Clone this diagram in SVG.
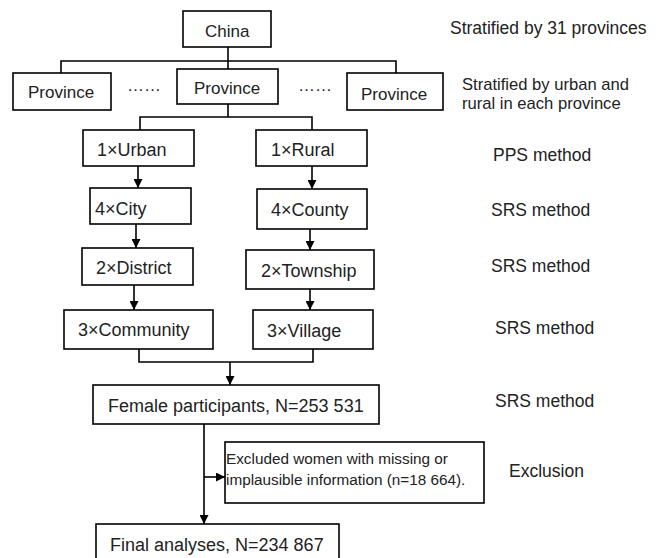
<svg xmlns="http://www.w3.org/2000/svg" width="656" height="558" viewBox="0 0 656 558">
<style>
.box{fill:#fff;stroke:#000;stroke-width:1.6}
.t{font-family:"Liberation Sans",Arial,sans-serif;font-size:18px;fill:#222}
.s{font-size:17px}
.r{font-family:"Liberation Sans",Arial,sans-serif;font-size:17.5px;fill:#222}
.r2{font-size:16.6px}
.e{font-size:15.3px}
.ln{fill:none;stroke:#000;stroke-width:1.6}
</style>
<defs>
<marker id="ah" viewBox="0 0 10 10" refX="10" refY="5" markerWidth="9" markerHeight="9" markerUnits="userSpaceOnUse" orient="auto">
<path d="M0,0 L10,5 L0,10 z" fill="#000"/>
</marker>
</defs>
<rect width="656" height="558" fill="#fff"/>
<g id="connectors">
<path class="ln" d="M228,47 V69"/>
<path class="ln" d="M61,73 V61 H396 V73"/>
<path class="ln" d="M228,104 V117"/>
<path class="ln" d="M140,130 V117 H312 V130"/>
<path class="ln" d="M138,166 V188" marker-end="url(#ah)"/>
<path class="ln" d="M312,166 V189" marker-end="url(#ah)"/>
<path class="ln" d="M136,224 V248" marker-end="url(#ah)"/>
<path class="ln" d="M310,229 V250" marker-end="url(#ah)"/>
<path class="ln" d="M134,285 V310" marker-end="url(#ah)"/>
<path class="ln" d="M310,289 V310" marker-end="url(#ah)"/>
<path class="ln" d="M139,349 V362 H313 V349"/>
<path class="ln" d="M230,362 V385" marker-end="url(#ah)"/>
<path class="ln" d="M204,424 V524" marker-end="url(#ah)"/>
<path class="ln" d="M204,477 H225" marker-end="url(#ah)"/>
</g>
<g id="china"><rect class="box" x="183" y="11" width="88" height="36"/><text class="t s" x="205" y="37">China</text></g>
<g id="province-left"><rect class="box" x="13" y="73" width="98" height="37"/><text class="t s" x="28" y="98">Province</text></g>
<text class="t s" x="127" y="91">……</text>
<g id="province-mid"><rect class="box" x="177" y="69" width="101" height="35"/><text class="t s" x="194" y="94">Province</text></g>
<text class="t s" x="298" y="91">……</text>
<g id="province-right"><rect class="box" x="347" y="73" width="96" height="37"/><text class="t s" x="361" y="100">Province</text></g>
<g id="urban"><rect class="box" x="83" y="130" width="111" height="36"/><text class="t" x="97" y="156">1×Urban</text></g>
<g id="rural"><rect class="box" x="256" y="130" width="111" height="36"/><text class="t" x="271" y="156">1×Rural</text></g>
<g id="city"><rect class="box" x="90" y="188" width="101" height="36"/><text class="t" x="95" y="215">4×City</text></g>
<g id="county"><rect class="box" x="257" y="189" width="110" height="40"/><text class="t" x="271" y="216">4×County</text></g>
<g id="district"><rect class="box" x="82" y="248" width="111" height="37"/><text class="t" x="96" y="274">2×District</text></g>
<g id="township"><rect class="box" x="246" y="250" width="128" height="39"/><text class="t" x="261" y="277">2×Township</text></g>
<g id="community"><rect class="box" x="64" y="310" width="149" height="39"/><text class="t" x="78" y="336">3×Community</text></g>
<g id="village"><rect class="box" x="253" y="310" width="120" height="39"/><text class="t" x="267" y="337">3×Village</text></g>
<g id="female"><rect class="box" x="93" y="385" width="286" height="39"/><text class="t" x="108" y="412">Female participants, N=253 531</text></g>
<g id="excluded"><rect class="box" x="225" y="442" width="259" height="61"/><text class="t e" x="226" y="464">Excluded women with missing or</text><text class="t e" x="226" y="485">implausible information (n=18 664).</text></g>
<g id="final"><rect class="box" x="96" y="524" width="243" height="40"/><text class="t" x="110" y="551">Final analyses, N=234 867</text></g>
<g id="labels">
<text class="r" x="450" y="34">Stratified by 31 provinces</text>
<text class="r r2" x="462" y="90">Stratified by urban and</text>
<text class="r r2" x="462" y="109">rural in each province</text>
<text class="r" x="493" y="161">PPS method</text>
<text class="r" x="491" y="216">SRS method</text>
<text class="r" x="491" y="272">SRS method</text>
<text class="r" x="495" y="334">SRS method</text>
<text class="r" x="495" y="407">SRS method</text>
<text class="r" x="509" y="477">Exclusion</text>
</g>
</svg>
